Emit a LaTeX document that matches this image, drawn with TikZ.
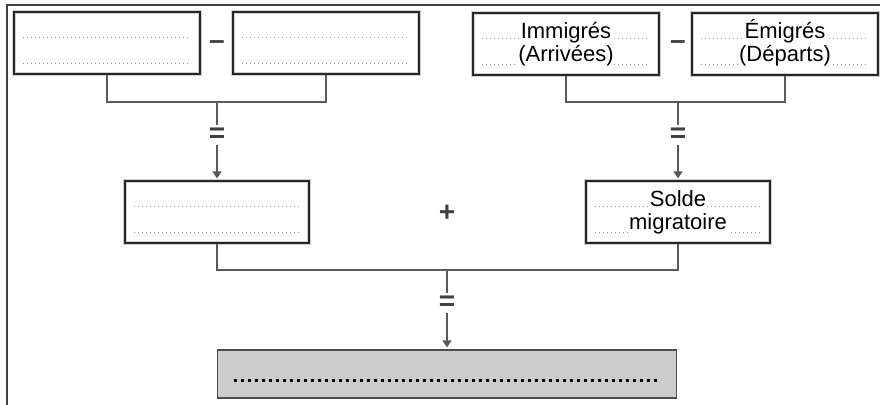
\documentclass[tikz,border=0pt]{standalone}
\usepackage{fontspec}
\setmainfont{Liberation Sans}
\usetikzlibrary{shapes,arrows.meta,calc}

\begin{document}
\begin{tikzpicture}[x=0.5pt,y=-0.5pt,
	box/.style={draw=black!85, line width=0.6pt, minimum width=93pt, minimum height=31pt, inner sep=0pt,
		preaction={draw=black!18, line width=2pt}},
	conn/.style={draw=black!65, line width=0.75pt},
	dots/.style={draw=black!40, line width=0.4pt, dash pattern=on 0.5pt off 1.5pt},
	sign/.style={font=\bfseries\fontsize{14}{14}\selectfont, text=black!75, inner sep=1pt},
	txt/.style={font=\fontsize{11}{13}\selectfont, anchor=base, fill=white, inner sep=0.3pt},
	>={Triangle[length=3.5pt,width=4.5pt]}]
	\useasboundingbox (0,0) rectangle (880,405);
	\draw[black!75, line width=0.6pt] (7,405) -- (7,5) -- (880,5);

	% premiere ligne
	\node[box] (naiss) at (107,43) {};
	\node[box] (deces) at (326,43) {};
	\node[box] (immig) at (566,44) {};
	\node[box] (emig) at (785,44) {};
	\node[sign] (moinsA) at (217,45) {--};
	\node[sign] (moinsB) at (678,45) {--};

	% deuxieme ligne
	\node[box, minimum width=92pt] (natur) at (217,212) {};
	\node[box, minimum width=92pt] (solde) at (678,212) {};
	\node[sign] (plus) at (447,213) {+};

	% resultat
	\node[draw=black!70, line width=0.6pt, fill=black!20, minimum width=229.5pt, minimum height=24pt] (total) at (447,374) {};
	\draw[line width=1.5pt, dash pattern=on 1.5pt off 2pt] ($(total.west)+(17,7)$) -- ($(total.east)+(-17,7)$);

	% lignes pointillees
	\foreach \n in {naiss,deces,immig,emig,natur,solde}
		\draw[dots] ($(\n.north west)+(10,26)$) -- ($(\n.north east)+(-10,26)$)
		            ($(\n.north west)+(10,52)$) -- ($(\n.north east)+(-10,52)$);

	\node[txt] (immigA) at ($(immig.north)+(0,26)$) {Immigrés};
	\node[txt] (immigB) at ($(immig.north)+(0,49)$) {(Arrivées)};
	\node[txt] (emigA) at ($(emig.north)+(0,26)$) {Émigrés};
	\node[txt] (emigB) at ($(emig.north)+(0,49)$) {(Départs)};
	\node[txt] (soldeA) at ($(solde.north)+(0,26)$) {Solde};
	\node[txt] (soldeB) at ($(solde.north)+(0,49)$) {migratoire};

	% connecteurs
	\coordinate (jA) at (217,102);
	\coordinate (jB) at (678,102);
	\coordinate (jC) at (447,270);
	\node[sign] (egalA) at (217,135) {=};
	\node[sign] (egalB) at (678,135) {=};
	\node[sign] (egalC) at (447,303) {=};
	\draw[conn] (naiss.south) |- (jA) -| (deces.south);
	\draw[conn] (immig.south) |- (jB) -| (emig.south);
	\draw[conn] (natur.south) |- (jC) -| (solde.south);
	\draw[conn] (jA) -- (egalA);
	\draw[conn] (jB) -- (egalB);
	\draw[conn] (jC) -- (egalC);
	\draw[conn,->,shorten >=1pt] (egalA) -- (egalA |- natur.north);
	\draw[conn,->,shorten >=1pt] (egalB) -- (egalB |- solde.north);
	\draw[conn,->,shorten >=1pt] (egalC) -- (egalC |- total.north);
\end{tikzpicture}
\end{document}
